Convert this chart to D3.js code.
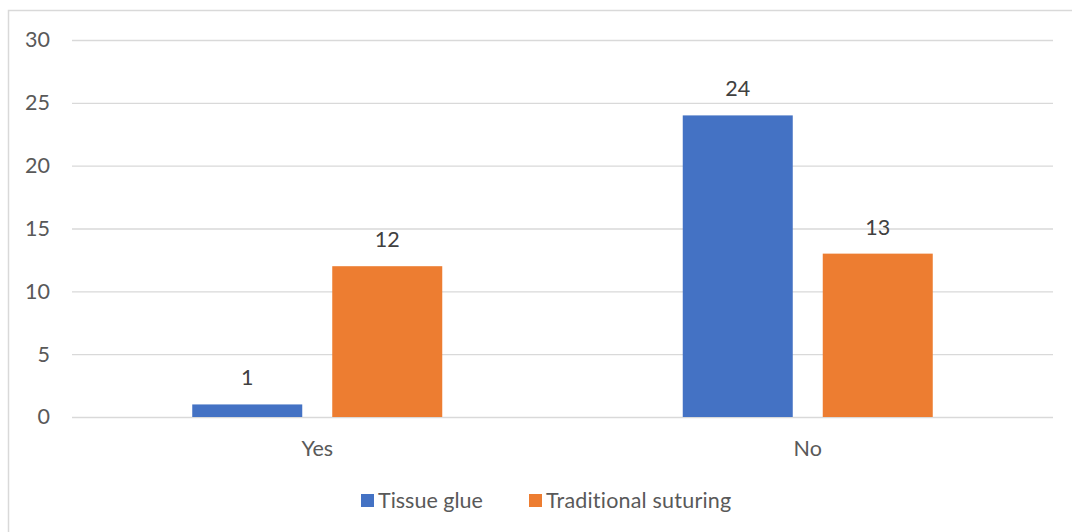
<!DOCTYPE html>
<html>
<head>
<meta charset="utf-8">
<script src="https://cdn.jsdelivr.net/npm/d3@7"></script>
<style>
  html, body { margin: 0; padding: 0; background: #fff; }
  svg { display: block; font-family: Lato, "Open Sans", sans-serif; }
</style>
</head>
<body>
<svg id="chart" width="1072" height="532"></svg>
<script>
// Responses per category, one array per treatment group
const categories = ["Yes", "No"];
const seriesNames = ["Tissue glue", "Traditional suturing"];
const tissueGlue = [1, 24];
const traditionalSuturing = [12, 13];
const yTicks = [0, 5, 10, 15, 20, 25, 30];
const colors = ["#4472C4", "#ED7D31"];

const svg = d3.select("#chart");
const W = 1072, H = 532;
const plot = { left: 72, right: 1053, top: 40, bottom: 417 };
const textColor = "#595959";
const gridColor = "#d9d9d9";
const fontSize = 21.5;

// Outer chart frame
svg.append("rect")
  .attr("x", 8.5).attr("y", 10.5)
  .attr("width", W + 10).attr("height", H + 10)
  .attr("fill", "none").attr("stroke", gridColor).attr("stroke-width", 1.5);

const x0 = d3.scaleBand().domain(categories).range([plot.left, plot.right]).padding(0);
const y = d3.scaleLinear().domain([0, 30]).range([plot.bottom, plot.top]);

// Horizontal gridlines and value axis
const yAxis = d3.axisLeft(y).tickValues(yTicks).tickSize(-(plot.right - plot.left)).tickPadding(22);
const gy = svg.append("g").attr("transform", `translate(${plot.left},0)`).call(yAxis);
gy.select(".domain").remove();
gy.selectAll(".tick line").attr("stroke", gridColor).attr("stroke-width", 1.3);
gy.selectAll(".tick text").attr("fill", textColor).attr("font-size", fontSize).attr("font-family", "Lato, sans-serif");

// Category axis labels
const xAxis = d3.axisBottom(x0).tickSize(0).tickPadding(24);
const gx = svg.append("g").attr("transform", `translate(0,${plot.bottom})`).call(xAxis);
gx.select(".domain").remove();
gx.selectAll(".tick text").attr("fill", textColor).attr("font-size", fontSize).attr("font-family", "Lato, sans-serif");

const rows = categories.map((c, i) => ({
  category: c,
  values: [
    { series: seriesNames[0], value: tissueGlue[i] },
    { series: seriesNames[1], value: traditionalSuturing[i] }
  ]
}));

const barWidth = 110, barGap = 30;
const groupWidth = barWidth * 2 + barGap;
const groups = svg.append("g").selectAll("g").data(rows).join("g")
  .attr("transform", d => `translate(${x0(d.category) + x0.bandwidth() / 2 - groupWidth / 2},0)`);

groups.selectAll("rect").data(d => d.values).join("rect")
  .attr("x", (d, i) => i * (barWidth + barGap))
  .attr("y", d => y(d.value))
  .attr("width", barWidth)
  .attr("height", d => y(0) - y(d.value))
  .attr("fill", (d, i) => colors[i]);

groups.selectAll("text").data(d => d.values).join("text")
  .attr("x", (d, i) => i * (barWidth + barGap) + barWidth / 2)
  .attr("y", d => y(d.value) - 19)
  .attr("text-anchor", "middle")
  .attr("fill", "#404040")
  .attr("font-size", fontSize)
  .text(d => d.value);

// Legend
const legend = svg.append("g").attr("transform", "translate(0,500)");
const legendX = [361, 529];
seriesNames.forEach((name, i) => {
  legend.append("rect")
    .attr("x", legendX[i]).attr("y", -6).attr("width", 13).attr("height", 13)
    .attr("fill", colors[i]);
  legend.append("text")
    .attr("x", legendX[i] + 17).attr("y", 0).attr("dy", "0.35em")
    .attr("fill", textColor).attr("font-size", fontSize)
    .attr("letter-spacing", i === 1 ? 0.2 : 0)
    .text(name);
});
</script>
</body>
</html>
